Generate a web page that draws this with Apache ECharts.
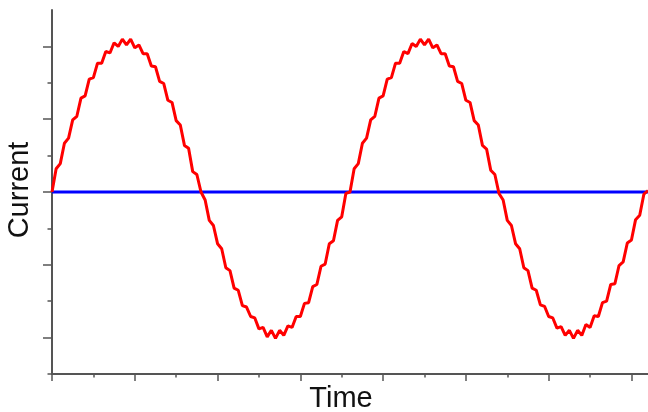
<!DOCTYPE html>
<html>
<head>
<meta charset="utf-8">
<title>Current vs Time</title>
<script src="https://cdn.jsdelivr.net/npm/echarts@6/dist/echarts.min.js"></script>
<style>
  html, body { margin: 0; padding: 0; background: #ffffff; }
  #chart { width: 648px; height: 412px; }
</style>
</head>
<body>
<div id="chart"></div>
<script>
// Sampled current waveform (two cycles with switching ripple)
const timeStep = 0.05;
const current = [
  0.00, 0.32, 0.39, 0.67, 0.74, 0.99, 1.04, 1.29, 1.32, 1.55, 1.57, 1.77, 1.77,
  1.93, 1.91, 2.05, 2.00, 2.10, 2.02, 2.10, 1.98, 2.02, 1.90, 1.90, 1.73, 1.72,
  1.52, 1.49, 1.26, 1.23, 0.98, 0.92, 0.64, 0.60, 0.28, 0.24, 0.00, -0.11, -0.39,
  -0.46, -0.71, -0.78, -1.04, -1.08, -1.32, -1.35, -1.56, -1.58, -1.71, -1.73,
  -1.88, -1.86, -1.99, -1.90, -2.01, -1.90, -1.97, -1.84, -1.86, -1.71, -1.71,
  -1.53, -1.52, -1.30, -1.27, -1.02, -0.99, -0.71, -0.67, -0.39, -0.34, -0.02,
  0.00, 0.32, 0.39, 0.67, 0.74, 0.99, 1.04, 1.29, 1.32, 1.55, 1.57, 1.77, 1.77,
  1.93, 1.90, 2.04, 2.00, 2.10, 2.02, 2.10, 1.98, 2.02, 1.90, 1.90, 1.73, 1.72,
  1.52, 1.49, 1.26, 1.23, 0.98, 0.92, 0.64, 0.59, 0.30, 0.24, -0.02, -0.11, -0.39,
  -0.46, -0.71, -0.78, -1.04, -1.08, -1.32, -1.35, -1.55, -1.57, -1.71, -1.73,
  -1.87, -1.85, -1.97, -1.90, -2.01, -1.90, -1.97, -1.82, -1.86, -1.70, -1.71,
  -1.52, -1.50, -1.27, -1.26, -1.01, -0.96, -0.70, -0.66, -0.38, -0.32, -0.03,
  0.02
];
// Zero reference line
const referenceLine = [[0, 0], [7.2, 0]];

// Axis extents and tick positions
const timeRange = [0, 7.2];
const currentRange = [-2.5, 2.5];
const timeMajorTicks = [0, 1, 2, 3, 4, 5, 6, 7];
const timeMinorTicks = [0.5, 1.5, 2.5, 3.5, 4.5, 5.5, 6.5];
const currentMajorTicks = [-2, -1, 0, 1, 2];
const currentMinorTicks = [-2.5, -1.5, -0.5, 0.5, 1.5];

const axisColor = '#555555';

function xAxisDef(ticks, len, showLine) {
  return {
    type: 'value', position: 'bottom', min: timeRange[0], max: timeRange[1],
    axisLine: { show: showLine, onZero: false, lineStyle: { color: axisColor, width: 2 } },
    axisTick: { show: true, customValues: ticks, length: len, lineStyle: { color: axisColor, width: 1.5 } },
    axisLabel: { show: false }, splitLine: { show: false }
  };
}
function yAxisDef(ticks, len, showLine) {
  return {
    type: 'value', position: 'left', min: currentRange[0], max: currentRange[1],
    axisLine: { show: showLine, onZero: false, lineStyle: { color: axisColor, width: 2 } },
    axisTick: { show: true, customValues: ticks, length: len, lineStyle: { color: axisColor, width: 1.5 } },
    axisLabel: { show: false }, splitLine: { show: false }
  };
}

const chart = echarts.init(document.getElementById('chart'), null, { renderer: 'canvas' });
chart.setOption({
  animation: false,
  backgroundColor: '#ffffff',
  grid: { left: 52, right: 0, top: 10, bottom: 38 },
  xAxis: [xAxisDef(timeMajorTicks, 7, true), xAxisDef(timeMinorTicks, 3.5, false)],
  yAxis: [yAxisDef(currentMajorTicks, 9, true), yAxisDef(currentMinorTicks, 4.5, false)],
  graphic: [
    {
      type: 'text', x: 20, y: 190, rotation: Math.PI / 2,
      style: { text: 'Current', font: '29px "Liberation Sans", Arial, sans-serif', fill: '#111111',
               align: 'center', verticalAlign: 'middle' }
    },
    {
      type: 'text', x: 341, y: 399,
      style: { text: 'Time', font: '29px "Liberation Sans", Arial, sans-serif', fill: '#111111',
               align: 'center', verticalAlign: 'middle' }
    }
  ],
  series: [
    {
      name: 'Reference', type: 'line', xAxisIndex: 0, yAxisIndex: 0,
      data: referenceLine, showSymbol: false, z: 2,
      lineStyle: { color: '#0000ff', width: 3 }
    },
    {
      name: 'Current', type: 'line', xAxisIndex: 0, yAxisIndex: 0,
      data: current.map((v, i) => [i * timeStep, v]),
      showSymbol: false, z: 3,
      lineStyle: { color: '#ff0000', width: 3 }
    }
  ]
});
</script>
</body>
</html>
